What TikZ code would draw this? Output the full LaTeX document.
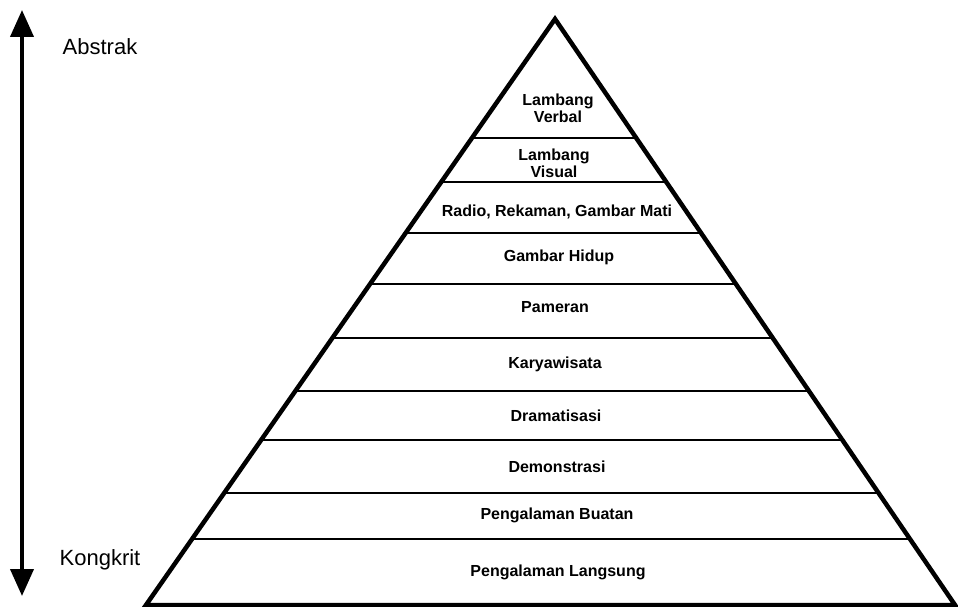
\documentclass[tikz,border=0pt]{standalone}
\usepackage{fontspec}
\setmainfont{Liberation Sans}
\usepackage{tikz}
\usetikzlibrary{arrows.meta,calc}

\begin{document}
\begin{tikzpicture}[x=1pt,y=-1pt,
    tri/.style={line width=4.5pt,line join=miter},
    sep/.style={line width=2pt},
    lvl/.style={font=\fontsize{16}{17}\selectfont\bfseries,align=center,inner sep=0pt},
    side/.style={font=\fontsize{22}{24}\selectfont,inner sep=0pt},
    arr/.style={{Triangle[length=27pt,width=23pt]}-{Triangle[length=27pt,width=23pt]},line width=4pt}
  ]
  \useasboundingbox (0,0) rectangle (958,607);
  % pyramid
  \coordinate (apex) at (555,19);
  \coordinate (bl) at (146,605);
  \coordinate (br) at (955,605);
  \draw[tri] (bl) -- (apex) -- (br) -- cycle;
  \foreach \y in {138,182,233.5,284.5,338.5,391.5,440,493,539.5}
    \draw[sep] ($(apex)!{(\y-19)/586}!(bl)$) -- ($(apex)!{(\y-19)/586}!(br)$);
  % levels, top to bottom
  \node[lvl] (verbal) at (558,108) {Lambang\\Verbal};
  \node[lvl] (visual) at (554,163) {Lambang\\Visual};
  \node[lvl] (radio) at (557,212) {Radio, Rekaman, Gambar Mati};
  \node[lvl] (film) at (559,257) {Gambar Hidup};
  \node[lvl] (pameran) at (555,307) {Pameran};
  \node[lvl] (wisata) at (555,364) {Karyawisata};
  \node[lvl] (drama) at (556,416) {Dramatisasi};
  \node[lvl] (demo) at (557,467) {Demonstrasi};
  \node[lvl] (buatan) at (557,515) {Pengalaman Buatan};
  \node[lvl] (langsung) at (558,572) {Pengalaman Langsung};
  % abstract - concrete axis
  \coordinate (top) at (22,10);
  \coordinate (bot) at (22,596);
  \draw[arr] (top) -- (bot);
  \node[side] (abstrak) at (100,47) {Abstrak};
  \node[side] (kongkrit) at (100,560) {Kongkrit};
\end{tikzpicture}
\end{document}
